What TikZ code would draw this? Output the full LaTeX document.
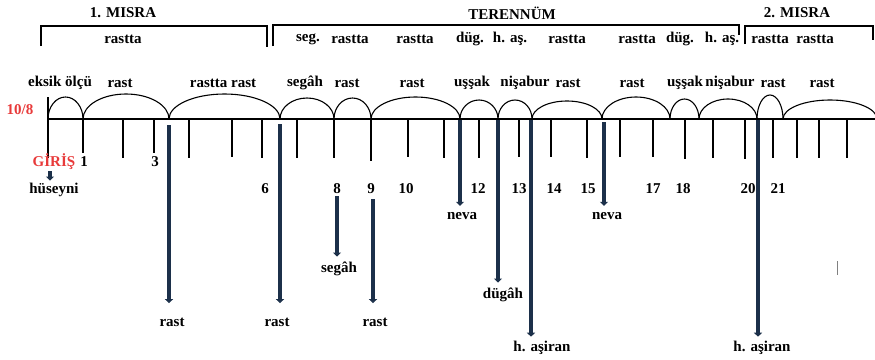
\documentclass[tikz,border=0pt]{standalone}
\usepackage{fontspec}
\setmainfont{Liberation Serif}
\usetikzlibrary{arrows.meta}

\definecolor{lacivert}{RGB}{28,48,74}
\definecolor{kirmizi}{RGB}{232,58,58}

\tikzset{
  yazi/.style={font=\fontsize{15}{18}\selectfont\bfseries, inner sep=2pt},
  kyazi/.style={yazi, text=kirmizi},
  ok/.style={draw=lacivert, line width=3.6pt, -{Triangle[length=4pt,width=8pt]}},
}

% half ellipse over the staff line, from x=#1 to x=#2, height #3
\newcommand{\kemer}[3]{\draw (#1,-119) arc[start angle=180, end angle=0, x radius={(#2-#1)/2*1pt}, y radius=#3pt];}

\begin{document}
\begin{tikzpicture}[x=1pt,y=1pt,line width=1.1pt]
    \useasboundingbox (0,0) rectangle (875,-359);

    \node[yazi] (misra1) at (123,-13) {1. MISRA};
    \node[yazi] (terennum) at (512,-13) {TERENNÜM};
    \node[yazi] (misra2) at (797,-13) {2. MISRA};
    \draw (41,-46) -- (41,-26) -- (267,-26) -- (267,-47);
    \draw (273,-46) -- (273,-25) -- (739,-25) -- (739,-35);
    \draw (745,-44) -- (745,-26) -- (873,-26) -- (873,-40);

    \node[yazi] (b1) at (123,-39) {rastta};
    \node[yazi] (b2) at (308,-39) {seg.};
    \node[yazi] (b3) at (350,-39) {rastta};
    \node[yazi] (b4) at (415,-39) {rastta};
    \node[yazi] (b5) at (470,-39) {düg.};
    \node[yazi] (b6) at (510,-39) {h. aş.};
    \node[yazi] (b7) at (567,-39) {rastta};
    \node[yazi] (b8) at (637,-39) {rastta};
    \node[yazi] (b9) at (680,-39) {düg.};
    \node[yazi] (b10) at (722,-39) {h. aş.};
    \node[yazi] (b11) at (770,-39) {rastta};
    \node[yazi] (b12) at (815,-39) {rastta};

    \node[yazi] (k1) at (60,-83) {eksik ölçü};
    \node[yazi] (k2) at (120,-83) {rast};
    \node[yazi] (k3) at (223,-83) {rastta rast};
    \node[yazi] (k4) at (305,-83) {segâh};
    \node[yazi] (k5) at (347,-83) {rast};
    \node[yazi] (k6) at (412,-83) {rast};
    \node[yazi] (k7) at (472,-83) {uşşak};
    \node[yazi] (k8) at (525,-83) {nişabur};
    \node[yazi] (k9) at (568,-83) {rast};
    \node[yazi] (k10) at (632,-83) {rast};
    \node[yazi] (k11) at (685,-83) {uşşak};
    \node[yazi] (k12) at (730,-83) {nişabur};
    \node[yazi] (k13) at (773,-83) {rast};
    \node[yazi] (k14) at (822,-83) {rast};

    \node[kyazi] (usul) at (20,-110) {10/8};

    \kemer{48}{83}{22}
    \kemer{83}{169}{25}
    \kemer{169}{280}{25}
    \kemer{280}{334}{21}
    \kemer{334}{371}{21}
    \kemer{371}{460}{22}
    \kemer{460}{498}{19}
    \kemer{498}{532}{19}
    \kemer{532}{602}{18}
    \kemer{602}{670}{22}
    \kemer{670}{699}{20}
    \kemer{699}{757}{20}
    \kemer{757}{783}{24}
    \kemer{783}{877}{19}

    \draw (48,-119) -- (875,-119);
    \draw[line width=2.2pt] (48,-97) -- (48,-158);
    \foreach \x/\y in {83/153,123/158,154/153,189/158,232/157,262/158,297/158,
        334/158,371/161,408/157,444/158,479/158,519/157,551/157,587/158,620/157,
        653/157,685/159,713/158,745/159,773/158,797/158,819/158,847/158}
        \draw (\x,-119) -- (\x,-\y);

    \node[kyazi] (giris) at (54,-162) {GİRİŞ};
    \node[yazi] (n1) at (84,-162) {1};
    \node[yazi] (n3) at (155,-162) {3};
    \node[yazi] (n6) at (265,-189) {6};
    \node[yazi] (n8) at (337,-189) {8};
    \node[yazi] (n9) at (371,-189) {9};
    \node[yazi] (n10) at (406,-189) {10};
    \node[yazi] (n12) at (478,-189) {12};
    \node[yazi] (n13) at (519,-189) {13};
    \node[yazi] (n14) at (554,-189) {14};
    \node[yazi] (n15) at (588,-189) {15};
    \node[yazi] (n17) at (653,-189) {17};
    \node[yazi] (n18) at (683,-189) {18};
    \node[yazi] (n20) at (748,-189) {20};
    \node[yazi] (n21) at (778,-189) {21};

    \node[yazi] (huseyni) at (54,-190) {hüseyni};
    \node[yazi] (rastA) at (172,-322) {rast};
    \node[yazi] (rastB) at (277,-322) {rast};
    \node[yazi] (segah) at (339,-269) {segâh};
    \node[yazi] (rastC) at (375,-322) {rast};
    \node[yazi] (nevaA) at (462,-216) {neva};
    \node[yazi] (dugah) at (503,-295) {dügâh};
    \node[yazi] (asiranA) at (542,-348) {h. aşiran};
    \node[yazi] (nevaB) at (607,-216) {neva};
    \node[yazi] (asiranB) at (762,-348) {h. aşiran};

    \coordinate (d3) at (169,-125);
    \coordinate (d6) at (280,-124);
    \coordinate (d12) at (460,-120);
    \coordinate (d13) at (498,-120);
    \coordinate (d14) at (531,-120);
    \coordinate (d15) at (604,-122);
    \coordinate (d20) at (758,-120);
    \coordinate (d8) at (337,-196);
    \coordinate (d9) at (373,-199);
    \coordinate (d0) at (50,-171);

    \draw[ok] (d0) -- (d0 |- huseyni.north);
    \draw[ok, shorten >=12pt] (d3) -- (d3 |- rastA.north);
    \draw[ok, shorten >=12pt] (d6) -- (d6 |- rastB.north);
    \draw[ok, shorten >=3pt] (d8) -- (d8 |- segah.north);
    \draw[ok, shorten >=12pt] (d9) -- (d9 |- rastC.north);
    \draw[ok, shorten >=4pt] (d12) -- (d12 |- nevaA.north);
    \draw[ok, shorten >=3pt] (d13) -- (d13 |- dugah.north);
    \draw[ok, shorten >=2pt] (d14) -- (d14 |- asiranA.north);
    \draw[ok, shorten >=4pt] (d15) -- (d15 |- nevaB.north);
    \draw[ok, shorten >=2pt] (d20) -- (d20 |- asiranB.north);

    \draw[gray, line width=0.8pt] (837,-261) -- (837,-275);
\end{tikzpicture}
\end{document}
